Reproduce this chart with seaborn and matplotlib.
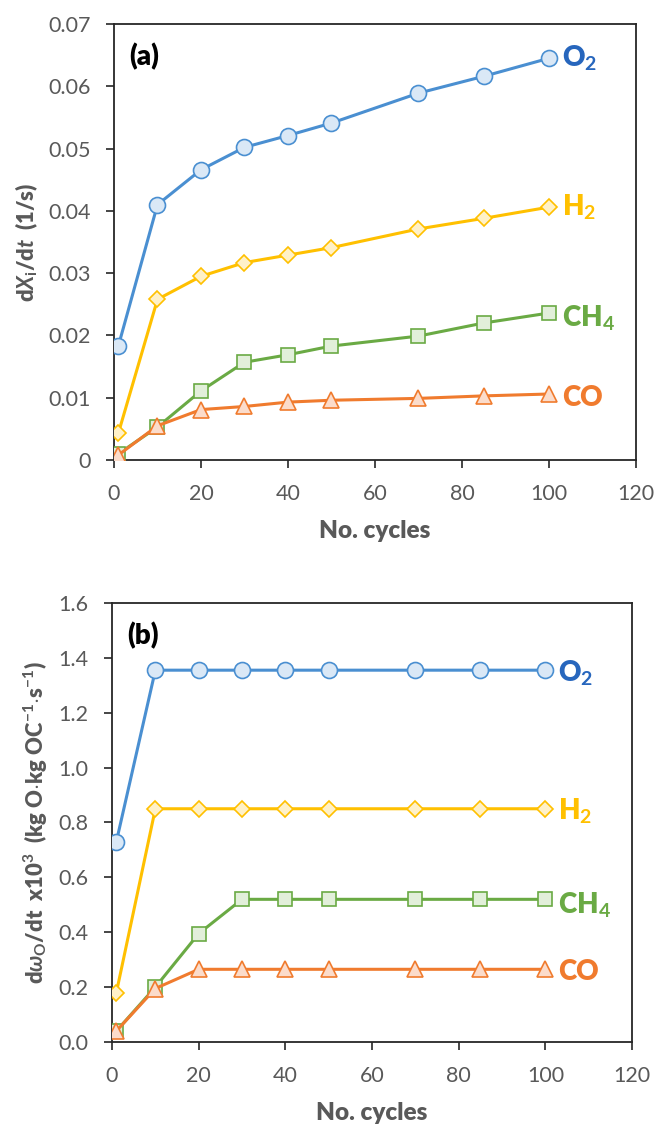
import matplotlib
matplotlib.use("Agg")
import matplotlib.pyplot as plt
import seaborn as sns
import pandas as pd

# Cycle numbers at which the rates were evaluated
cycles = [1, 10, 20, 30, 40, 50, 70, 85, 100]

# (a) conversion rate dX_i/dt (1/s)
rate_o2 = [0.0183, 0.0410, 0.0466, 0.0502, 0.0521, 0.0541, 0.0589, 0.0616, 0.0645]
rate_h2 = [0.0043, 0.0258, 0.0295, 0.0317, 0.0329, 0.0341, 0.0371, 0.0388, 0.0406]
rate_ch4 = [0.0010, 0.0053, 0.0111, 0.0157, 0.0169, 0.0183, 0.0199, 0.0220, 0.0236]
rate_co = [0.0008, 0.0055, 0.0081, 0.0086, 0.0093, 0.0096, 0.0099, 0.0103, 0.0106]

# (b) oxygen transfer rate d(omega_O)/dt x10^3
omega_o2 = [0.73, 1.355, 1.355, 1.355, 1.355, 1.355, 1.355, 1.355, 1.355]
omega_h2 = [0.18, 0.85, 0.85, 0.85, 0.85, 0.85, 0.85, 0.85, 0.85]
omega_ch4 = [0.04, 0.20, 0.395, 0.52, 0.52, 0.52, 0.52, 0.52, 0.52]
omega_co = [0.04, 0.195, 0.265, 0.265, 0.265, 0.265, 0.265, 0.265, 0.265]

gases = ["O$_2$", "H$_2$", "CH$_4$", "CO"]

sns.set_style("ticks")
plt.rcParams["font.family"] = ["Lato", "DejaVu Sans"]
plt.rcParams["mathtext.fontset"] = "custom"
plt.rcParams["mathtext.rm"] = "Lato:bold"
plt.rcParams["mathtext.bf"] = "Lato:bold"
plt.rcParams["mathtext.it"] = "Lato:bold:italic"

styles = {
    "O$_2$": dict(line="#4a8fd1", face="#dae8f6", marker="o", ms=11.5, text="#2766bd"),
    "H$_2$": dict(line="#ffc000", face="#fff1c8", marker="D", ms=8.0, text="#ffc000"),
    "CH$_4$": dict(line="#6aaa44", face="#e2efda", marker="s", ms=10.5, text="#6aaa44"),
    "CO": dict(line="#f07b2e", face="#fbdccb", marker="^", ms=11.5, text="#f07b2e"),
}

fig = plt.figure(figsize=(6.57, 11.27), dpi=100)
ax_a = fig.add_axes([0.1735, 0.5918, 0.7945, 0.3869])
ax_b = fig.add_axes([0.1705, 0.0754, 0.7915, 0.3896])

grey = "#595959"


def draw_panel(ax, series, ylim, yticks, yfmt, ylabel, tag, label_offsets):
    for name, values in zip(gases, series):
        st = styles[name]
        df = pd.DataFrame({"cycle": cycles, "value": values})
        sns.lineplot(data=df, x="cycle", y="value", ax=ax, color=st["line"],
                     linewidth=2.2, marker=st["marker"], markersize=st["ms"],
                     markerfacecolor=st["face"], markeredgecolor=st["line"],
                     markeredgewidth=1.2, estimator=None, sort=False, zorder=3)
        ax.text(cycles[-1] + 3.0, values[-1] + label_offsets.get(name, 0), name,
                color=st["text"], fontsize=20, fontweight="heavy",
                ha="left", va="center")
    ax.set_xlim(0, 120)
    ax.set_xticks(range(0, 121, 20))
    ax.set_ylim(*ylim)
    ax.set_yticks(yticks)
    ax.set_yticklabels([yfmt(v) for v in yticks])
    for side in ["left", "right", "top", "bottom"]:
        ax.spines[side].set_visible(True)
        ax.spines[side].set_linewidth(1.3)
        ax.spines[side].set_color("#262626")
    ax.tick_params(axis="both", direction="out", length=6, width=1.2,
                   color="#262626", labelcolor=grey, labelsize=15.5)
    ax.tick_params(axis="y", pad=11)
    ax.tick_params(axis="x", pad=11)
    ax.set_xlabel("No. cycles", fontsize=17.5, fontweight="heavy", color=grey,
                  labelpad=12)
    ax.set_ylabel(ylabel, fontsize=15.8, fontweight="heavy", color=grey,
                  labelpad=6)
    ax.text(0.03, 0.925, tag, transform=ax.transAxes, fontsize=20,
            fontweight="heavy", color="black", ha="left", va="center")


draw_panel(
    ax_a, [rate_o2, rate_h2, rate_ch4, rate_co],
    (0, 0.07), [0, 0.01, 0.02, 0.03, 0.04, 0.05, 0.06, 0.07],
    lambda v: "0" if v == 0 else f"{v:.2f}",
    r"d$\mathit{X}_\mathrm{i}$/d$\mathit{t}$  (1/s)", "(a)",
    {"O$_2$": 0.0, "H$_2$": 0.0, "CH$_4$": -0.0008, "CO": -0.0006},
)

draw_panel(
    ax_b, [omega_o2, omega_h2, omega_ch4, omega_co],
    (0, 1.6), [0, 0.2, 0.4, 0.6, 0.8, 1.0, 1.2, 1.4, 1.6],
    lambda v: f"{v:.1f}",
    r"d$\mathit{\omega}_\mathrm{O}$/dt  x10$^3$  (kg O$\cdot$kg OC$^{-1}$$\cdot$s$^{-1}$)",
    "(b)",
    {"O$_2$": -0.01, "H$_2$": -0.01, "CH$_4$": -0.02, "CO": -0.01},
)

fig.savefig("out.png", dpi=100)
